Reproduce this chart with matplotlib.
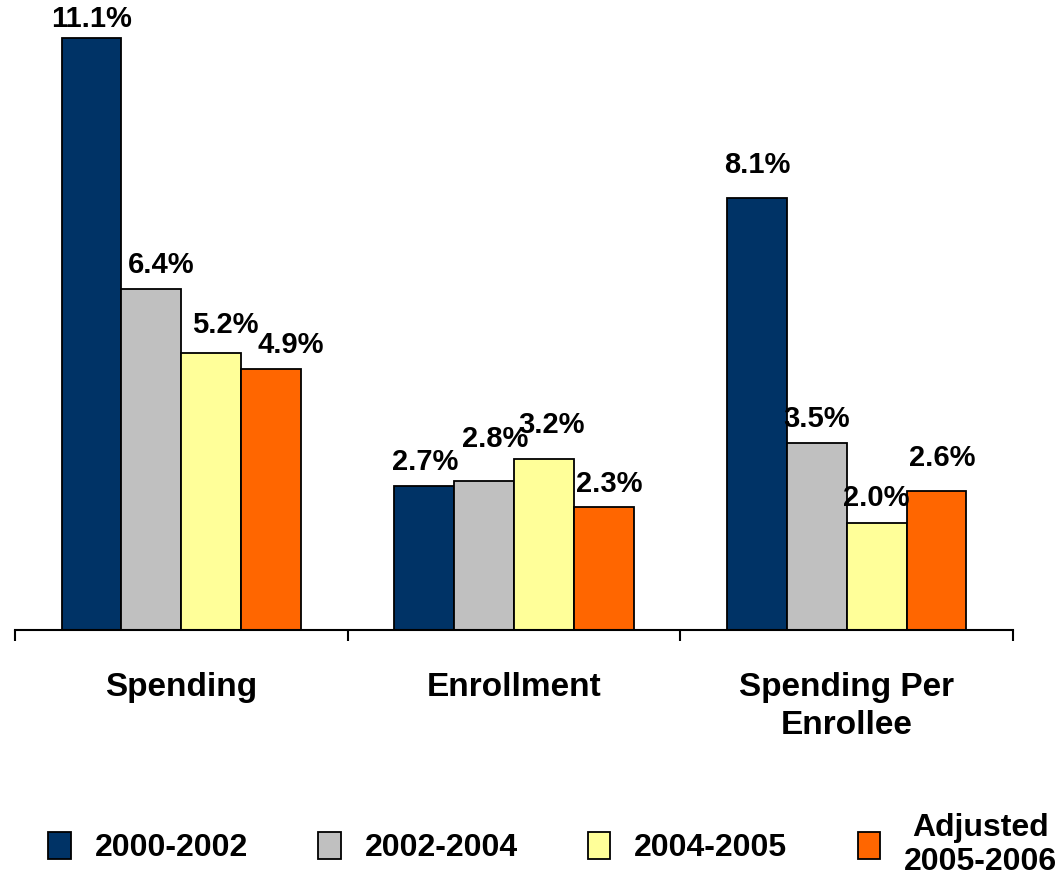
import matplotlib
matplotlib.use("Agg")
import matplotlib.pyplot as plt
import numpy as np

plt.rcParams['font.family'] = ['Liberation Sans', 'DejaVu Sans']
plt.rcParams['font.weight'] = 'bold'

categories = ["Spending", "Enrollment", "Spending Per\nEnrollee"]
series_names = ["2000-2002", "2002-2004", "2004-2005", "Adjusted\n2005-2006"]
values = [
    [11.1, 2.7, 8.1],   # 2000-2002
    [6.4, 2.8, 3.5],    # 2002-2004
    [5.2, 3.2, 2.0],    # 2004-2005
    [4.9, 2.3, 2.6],    # Adjusted 2005-2006
]
colors = ["#003366", "#C0C0C0", "#FFFF99", "#FF6600"]

# label nudges in pixels (dx, dy) to mimic hand-placed labels
label_nudge = [
    [(0, -4), (1, 0), (0, 10)],
    [(10, 0), (11, 18), (0, 1)],
    [(14, 4), (8, 11), (0, 2)],
    [(20, 0), (5, 0), (6, 10)],
]

fig = plt.figure(figsize=(10.59, 8.80), dpi=100)
ax = fig.add_axes([15/1059, (880-630)/880, (1013-15)/1059, 630/880])

x = np.arange(len(categories))
w = 0.18
offs = (np.arange(len(series_names)) - 1.5) * w
for i, (name, vals, c) in enumerate(zip(series_names, values, colors)):
    bars = ax.bar(x + offs[i], vals, w, color=c, edgecolor='black', linewidth=1.3,
                  label=name)
    for j, (b, v) in enumerate(zip(bars, vals)):
        dx, dy = label_nudge[i][j]
        ax.annotate(f"{v:.1f}%", (b.get_x() + b.get_width()/2, v),
                    xytext=(dx*0.72, 7 + dy*0.72), textcoords='offset points',
                    ha='center', va='bottom', fontsize=21, fontweight='bold')

ax.set_xlim(-0.5, len(categories) - 0.5)
ax.set_ylim(0, 630/53.3)
for s in ['top', 'right', 'left']:
    ax.spines[s].set_visible(False)
ax.spines['bottom'].set_linewidth(1.5)
ax.set_yticks([])
ax.set_xticks(np.arange(len(categories) + 1) - 0.5)
ax.set_xticklabels([])
ax.tick_params(axis='x', which='major', length=8, width=1.5, direction='out')
ax.set_xticks(x, minor=True)
ax.set_xticklabels(categories, minor=True, fontsize=24, fontweight='bold',
                   linespacing=1.3)
ax.tick_params(axis='x', which='minor', length=0, pad=30)

leg = fig.legend(loc='center', bbox_to_anchor=(0.522, 0.04), ncol=4, frameon=False,
                 prop={'size': 23, 'weight': 'bold'}, handlelength=0.7,
                 handleheight=0.9, handletextpad=0.75, columnspacing=2.2)
for t in leg.get_texts():
    t.set_multialignment('center')

fig.savefig("out.png", dpi=100)
